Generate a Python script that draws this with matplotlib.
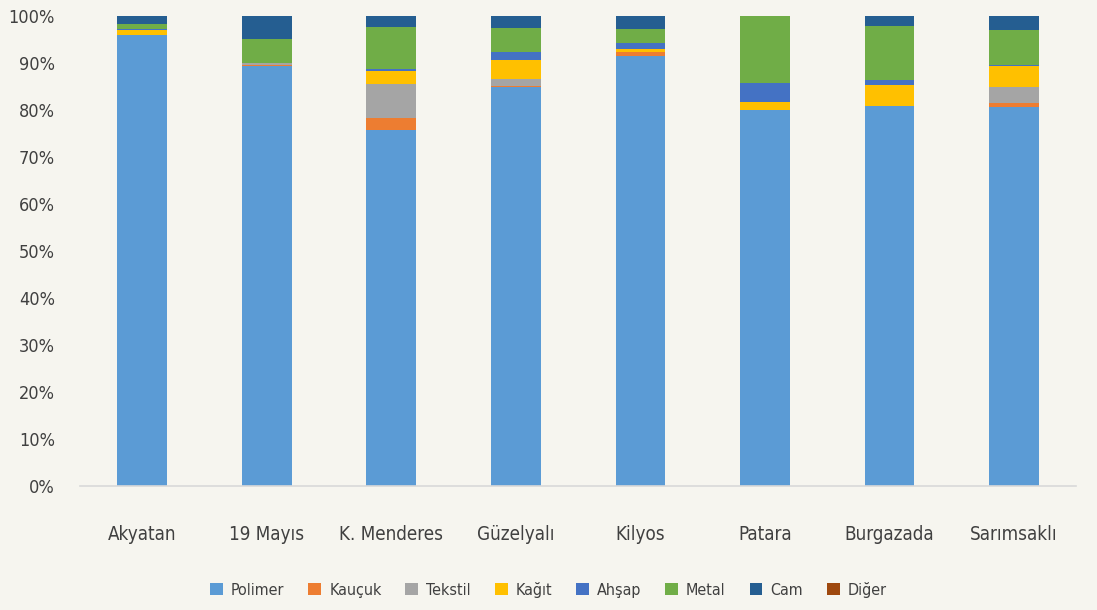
import numpy as np
import matplotlib
matplotlib.use("Agg")
import matplotlib.pyplot as plt
from matplotlib.ticker import PercentFormatter

plt.rcParams['font.family'] = ['DejaVu Sans']
plt.rcParams['font.stretch'] = 'condensed'

# data (percent shares per beach)
beaches = ['Akyatan', '19 Mayıs', 'K. Menderes', 'Güzelyalı', 'Kilyos',
           'Patara', 'Burgazada', 'Sarımsaklı']
polimer = [96.0, 89.3, 75.8, 84.8, 91.5, 80.1, 80.8, 80.6]
kaucuk = [0.0, 0.3, 2.5, 0.2, 0.8, 0.0, 0.0, 0.9]
tekstil = [0.0, 0.4, 7.2, 1.6, 0.0, 0.0, 0.0, 3.4]
kagit = [1.0, 0.0, 2.7, 4.0, 0.6, 1.5, 4.5, 4.4]
ahsap = [0.2, 0.0, 0.5, 1.8, 1.3, 4.1, 1.1, 0.3]
metal = [1.0, 5.0, 9.0, 5.1, 3.0, 14.3, 11.5, 7.4]
cam = [1.8, 5.0, 2.3, 2.5, 2.8, 0.0, 2.1, 3.0]
diger = [0.0, 0.0, 0.0, 0.0, 0.0, 0.0, 0.0, 0.0]

series = {
    'Polimer': polimer, 'Kauçuk': kaucuk, 'Tekstil': tekstil, 'Kağıt': kagit,
    'Ahşap': ahsap, 'Metal': metal, 'Cam': cam, 'Diğer': diger,
}
colors = ['#5B9BD5', '#ED7D31', '#A5A5A5', '#FFC000', '#4472C4',
          '#70AD47', '#255E91', '#9E480E']

bg = '#F6F5EF'
txt = '#404040'

fig = plt.figure(figsize=(10.97, 6.10), dpi=100, facecolor=bg)
ax = fig.add_axes([0.0729, 0.2033, 0.9083, 0.7705], facecolor=bg)

x = np.arange(len(beaches))
bottom = np.zeros(len(beaches))
for (name, vals), c in zip(series.items(), colors):
    ax.bar(x, vals, 0.4, bottom=bottom, color=c, label=name)
    bottom += np.array(vals)

ax.set_xlim(-0.5, len(beaches) - 0.5)
ax.set_ylim(0, 100)
ax.set_yticks(np.arange(0, 101, 10))
ax.yaxis.set_major_formatter(PercentFormatter(decimals=0))
ax.set_xticks(x)
ax.set_xticklabels(beaches)

for s in ['top', 'right', 'left']:
    ax.spines[s].set_visible(False)
ax.spines['bottom'].set_color('#D9D9D9')
ax.spines['bottom'].set_linewidth(1.2)
ax.tick_params(axis='y', length=0, pad=18, labelsize=13, labelcolor=txt)
ax.tick_params(axis='x', length=0, pad=28, labelsize=13.5, labelcolor=txt)

leg = fig.legend(loc='center', bbox_to_anchor=(0.5, 0.033), ncol=8,
                 frameon=False, fontsize=11.5, handlelength=0.8,
                 handleheight=0.8, columnspacing=1.5, handletextpad=0.5)
for t in leg.get_texts():
    t.set_color(txt)

fig.savefig('out.png', dpi=100, facecolor=bg)
